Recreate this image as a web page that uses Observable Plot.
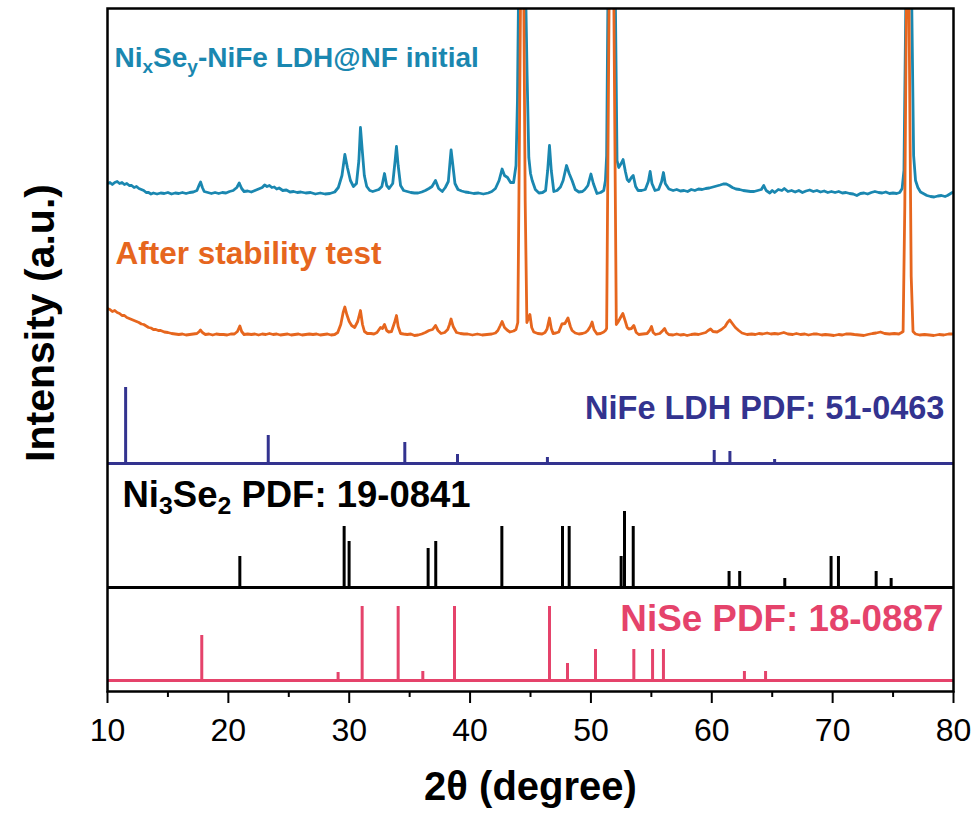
<!DOCTYPE html>
<html>
<head>
<meta charset="utf-8">
<script src="https://cdn.jsdelivr.net/npm/d3@7"></script>
<script src="https://cdn.jsdelivr.net/npm/@observablehq/plot@0.6"></script>
<style>
  html, body { margin: 0; padding: 0; background: #fff; }
  #chart svg { display: block; }
</style>
</head>
<body>
<div id="chart"></div>
<script>
// ---- Measured XRD pattern: NixSey-NiFe LDH@NF initial (2θ, intensity a.u. above its own baseline) ----
const initialTheta = [10.0,10.2,10.4,10.6,10.8,11.0,11.2,11.4,11.6,11.8,12.0,12.2,12.4,12.6,12.8,13.0,13.2,13.4,13.6,13.8,14.1,14.4,14.7,15.0,15.3,15.6,15.9,16.2,16.5,16.8,17.1,17.4,17.6,17.7,17.85,18.0,18.3,18.6,18.9,19.2,19.5,19.8,20.1,20.4,20.7,20.9,21.1,21.3,21.6,21.9,22.2,22.5,22.8,23.0,23.2,23.4,23.6,23.8,24.0,24.2,24.5,24.8,25.1,25.4,25.7,26.0,26.4,26.8,27.2,27.6,28.0,28.4,28.8,29.1,29.4,29.64,29.85,30.1,30.35,30.6,30.8,30.93,31.08,31.25,31.45,31.7,31.95,32.2,32.45,32.7,32.92,33.1,33.3,33.6,33.8,33.91,34.05,34.25,34.5,34.8,35.1,35.4,35.7,36.0,36.3,36.6,36.85,37.14,37.4,37.7,37.95,38.2,38.35,38.43,38.55,38.75,39.0,39.3,39.6,39.9,40.3,40.7,41.1,41.5,41.8,42.1,42.4,42.65,42.85,43.1,43.35,43.6,43.8,43.92,44.0,44.35,44.62,44.72,44.86,45.0,45.14,45.4,45.7,46.0,46.25,46.42,46.57,46.72,46.93,47.2,47.48,47.7,47.98,48.2,48.44,48.7,49.0,49.3,49.5,49.75,50.0,50.2,50.5,50.8,51.06,51.2,51.3,51.4,51.72,52.03,52.16,52.3,52.5,52.66,52.85,53.0,53.15,53.35,53.5,53.7,53.9,54.2,54.5,54.75,54.9,55.05,55.3,55.6,55.85,56.0,56.15,56.45,56.8,57.1,57.4,57.7,58.0,58.3,58.6,58.9,59.2,59.5,59.8,60.1,60.4,60.7,60.95,61.2,61.45,61.7,62.0,62.3,62.6,62.9,63.2,63.5,63.8,64.1,64.3,64.5,64.8,65.0,65.2,65.5,65.8,66.0,66.3,66.6,66.9,67.2,67.5,67.8,68.1,68.4,68.7,69.0,69.3,69.6,69.9,70.2,70.5,70.8,71.1,71.4,71.7,72.0,72.3,72.6,72.9,73.2,73.5,73.8,74.1,74.4,74.7,75.0,75.3,75.55,75.75,75.9,76.05,76.3,76.55,76.7,76.86,77.05,77.27,77.5,77.8,78.1,78.4,78.7,79.0,79.3,79.5,79.7,79.9];
const initialI = [12,13,11,13,14,12,13,11,12,10,10,8,9,7,6,5,3,3,1.5,2.5,1.5,2.5,2,3,1.5,2.5,2,3,2,3,3.5,5,11,13.5,8,4,3,2,3,2,3,2.5,4,5,8,12.5,7,4,4.5,3.5,5,6.5,8,10.5,9,10,8,8.5,6.5,7.5,5,5.5,3.5,4,3,3.5,2.5,3,1.5,2.5,1.5,2,3.5,8,20,41,28,15,9,12,35,68,45,20,9,5,4,5,6,9,22,10,7,12,35,49,30,10,5,4,3,2.5,2.5,3.5,5,7,9,15,7,4,8,14,35,45.5,33,12,6,4.5,3.5,3,2,2.5,1.5,2.5,4,7,15,26.5,20,18,13,13,30,95,190,330,190,120,38,22,15,6,2.5,3,5,25,50,25,4,5,8.5,15,30,22,15,6,3.5,4,6,10,21.5,12,2,3,5,15,40,187,600,187,35,28,32,36,24,16,14,18,20,9,5,5,6,14,24,12,5,6,14,23,12,6.5,5,6,4.5,5,4,6,5,6.5,6,7,7.5,8.5,9.5,10.5,11.5,11.5,10,8,6.5,6,5,4.5,4,4,5,6,10,5,2.5,5,3,6,5,7,4,5,3.5,5,3,4.5,5.5,4,5,3.5,4.5,3,4,3,4,2.5,3,2,1.5,0,2,2.5,1.5,3,4,3,2.5,3.5,2,2.5,2,3,7,25,187,620,187,40,15,8,3.5,2,0,-1,-1.5,-0.5,0,-1,0,1.5,3];

// ---- Measured XRD pattern: After stability test ----
const afterTheta = [10.0,10.2,10.4,10.6,10.8,11.0,11.2,11.4,11.6,11.8,12.0,12.2,12.4,12.6,12.8,13.0,13.2,13.4,13.6,13.8,14.0,14.2,14.4,14.7,15.0,15.3,15.6,15.9,16.2,16.5,16.8,17.1,17.4,17.6,17.7,17.85,18.1,18.4,18.7,19.0,19.3,19.6,19.9,20.2,20.5,20.75,20.95,21.1,21.3,21.6,21.9,22.2,22.5,22.8,23.1,23.4,23.7,24.0,24.3,24.6,24.9,25.2,25.5,25.8,26.1,26.4,26.7,27.0,27.3,27.6,27.9,28.2,28.5,28.8,29.05,29.3,29.5,29.64,29.8,30.0,30.2,30.45,30.7,30.93,31.1,31.26,31.5,31.8,32.05,32.3,32.59,32.75,32.92,33.1,33.27,33.5,33.75,33.91,34.05,34.25,34.5,34.8,35.1,35.4,35.7,36.0,36.3,36.6,36.9,37.14,37.35,37.6,37.9,38.15,38.3,38.43,38.6,38.88,39.2,39.5,39.8,40.2,40.6,41.0,41.4,41.8,42.1,42.3,42.5,42.65,42.85,43.06,43.3,43.6,43.8,43.95,44.04,44.17,44.3,44.45,44.56,44.7,44.82,44.95,45.1,45.27,45.6,45.96,46.2,46.37,46.57,46.72,46.87,47.1,47.34,47.6,47.85,48.1,48.3,48.44,48.7,49.0,49.3,49.55,49.74,49.95,50.1,50.25,50.5,50.8,51.06,51.2,51.3,51.5,51.7,51.9,52.1,52.22,52.45,52.64,52.85,53.0,53.13,53.35,53.55,53.75,53.96,54.3,54.65,54.85,55.01,55.15,55.34,55.7,55.95,56.1,56.25,56.44,56.8,57.1,57.4,57.7,57.96,58.3,58.6,58.9,59.2,59.5,59.7,59.9,60.1,60.44,60.8,61.1,61.3,61.49,61.7,61.95,62.23,62.5,62.92,63.3,63.6,63.9,64.2,64.58,64.9,65.2,65.5,65.96,66.3,66.7,67.0,67.34,67.7,68.0,68.4,68.72,69.1,69.4,69.8,70.1,70.5,70.8,71.1,71.48,71.8,72.2,72.58,72.9,73.3,73.6,73.96,74.3,74.7,75.1,75.48,75.7,75.83,75.97,76.1,76.2,76.32,76.5,76.65,76.86,77.2,77.6,78.0,78.37,78.8,79.2,79.6,79.9];
const afterI = [28,27,25,26,24,23,21,21,19,18,17,16,15,14,12.5,12,10.5,9,8.5,7,7,6,6,4.5,4,3,2.5,2,2.5,1.5,2,2.5,3,5,6.5,4,2,2.5,1.5,2.5,2,2,1.5,2.5,2.5,5,10.5,5,2,2.5,2,2.5,1.5,2.5,2,3,2,2.5,1.5,2,2.5,1.5,2,2.5,1.5,2,2.5,2,2.5,1.5,2,2.5,1.5,2,4,12,24,29.5,22,15,11,9,15,26,12,5,3,3,2.5,4,9,8,12,6,4.5,5,14,21,10,3,2.5,2,2.5,1,1.5,2.5,4,6,7,11,6,3,4,7,12,17.5,10,4,3,2.5,2.5,1.5,2.5,1.5,2,2.5,3.5,6,11,15,9,6.5,4.5,5.5,7,14,136,328,520,328,136,14,18,22,9,4.5,3,2.5,4,7.5,18.5,8,3,3.5,4.5,12.5,13,18.5,10,6,3.5,2.5,3,4,6,10,14.5,7,2.5,3,4.5,6,8,328,650,328,12,14,19,23,15,9,7.5,8,11,4,2,2.5,3,6,10,4,2,3,6,8,4,2,1.5,2.5,1.5,2,1,2,2.5,2,3,4,6,7.5,5,4.5,7,10,14,16.5,13,9,6,3.5,2,2.5,2,3,2.5,3.5,2.5,3,2.5,4,2.5,2,3,2,2.5,1.5,2.5,2.5,1.5,2,1.5,1,2,1.5,2.5,2.5,2,1.5,1,2,3,3.5,4.5,3,2.5,3,2.5,4,5,130,328,450,328,60,5,2.5,1.5,2,1.5,1,2,1.5,2.5,2.5];

// ---- Reference patterns (stick positions and relative intensities) ----
const nifeTheta = [11.5, 23.3, 34.6, 38.96, 46.4, 60.2, 61.5, 65.2];
const nifeI = [76, 28, 21, 9, 6, 13, 12, 4];

const ni3se2Theta = [20.95, 29.58, 29.99, 36.53, 37.16, 42.63, 47.65, 48.2, 52.5, 52.78, 53.5, 61.43, 62.31, 66.04, 69.87, 70.48, 73.6, 74.84];
const ni3se2I = [31, 61, 46, 39, 46, 61, 61, 61, 31, 76, 61, 16, 16, 9, 31, 31, 16, 9];

const niseTheta = [17.8, 29.08, 31.07, 34.05, 36.09, 38.71, 46.57, 48.06, 50.38, 53.55, 55.1, 56.0, 62.7, 64.45];
const niseI = [45, 8, 74, 74, 9, 74, 74, 17, 31, 31, 31, 31, 9, 9];

// ---- Labels / ticks ----
const majorTicks = [10, 20, 30, 40, 50, 60, 70, 80];
const minorTicks = [15, 25, 35, 45, 55, 65, 75];
const labelInitial = "NixSey-NiFe LDH@NF initial";
const labelAfter = "After stability test";
const labelNife = "NiFe LDH PDF: 51-0463";
const labelNi3se2 = "Ni3Se2 PDF: 19-0841";
const labelNise = "NiSe PDF: 18-0887";
const xTitle = "2θ (degree)";
const yTitle = "Intensity (a.u.)";

// vertical offsets of the stacked patterns (a.u.)
const offInitial = 496, offAfter = 355, offNife = 228, offNi3se2 = 104, offNise = 11;
const xDomain = [10, 80], yDomain = [0, 683];

const C = {teal: "#1a87b0", orange: "#e6661e", navy: "#33338f", black: "#000000", pink: "#e5436b"};

const line = (th, I, off) => th.map((t, i) => ({t, v: off + I[i]}));
const sticks = (th, I, off) => th.map((t, i) => ({t, y1: off, y2: off + I[i]}));

const plot = Plot.plot({
  width: 977,
  height: 817,
  marginLeft: 107,
  marginRight: 24,
  marginTop: 8,
  marginBottom: 126,
  style: {fontFamily: "'Liberation Sans', Arial, sans-serif", background: "#fff", color: "#000"},
  x: {domain: xDomain},
  y: {domain: yDomain, axis: null},
  marks: [
    // reference baselines
    Plot.ruleY([offNife], {stroke: C.navy, strokeWidth: 3}),
    Plot.ruleY([offNi3se2], {stroke: C.black, strokeWidth: 3}),
    Plot.ruleY([offNise], {stroke: C.pink, strokeWidth: 3}),
    // sticks
    Plot.ruleX(sticks(nifeTheta, nifeI, offNife), {x: "t", y1: "y1", y2: "y2", stroke: C.navy, strokeWidth: 3}),
    Plot.ruleX(sticks(ni3se2Theta, ni3se2I, offNi3se2), {x: "t", y1: "y1", y2: "y2", stroke: C.black, strokeWidth: 3}),
    Plot.ruleX(sticks(niseTheta, niseI, offNise), {x: "t", y1: "y1", y2: "y2", stroke: C.pink, strokeWidth: 3}),
    // measured patterns
    Plot.line(line(initialTheta, initialI, offInitial), {x: "t", y: "v", stroke: C.teal, strokeWidth: 2.8, clip: true, strokeLinejoin: "round"}),
    Plot.line(line(afterTheta, afterI, offAfter), {x: "t", y: "v", stroke: C.orange, strokeWidth: 2.8, clip: true, strokeLinejoin: "round"}),
    // labels
    Plot.text([labelInitial], {x: 10.58, y: 633, text: d => d, textAnchor: "start", lineAnchor: "middle", fill: C.teal, fontSize: 28, fontWeight: "bold"}),
    Plot.text([labelAfter], {x: 10.66, y: 438, text: d => d, textAnchor: "start", lineAnchor: "middle", fill: C.orange, fontSize: 31.5, fontWeight: "bold"}),
    Plot.text([labelNife], {x: 79.25, y: 283.4, text: d => d, textAnchor: "end", lineAnchor: "middle", fill: C.navy, fontSize: 32.5, fontWeight: "bold"}),
    Plot.text([labelNi3se2], {x: 11.24, y: 196.5, text: d => d, textAnchor: "start", lineAnchor: "middle", fill: C.black, fontSize: 36.5, fontWeight: "bold"}),
    Plot.text([labelNise], {x: 79.17, y: 72.5, text: d => d, textAnchor: "end", lineAnchor: "middle", fill: C.pink, fontSize: 36.8, fontWeight: "bold"}),
    // axes: tick marks, then tick labels as text
    Plot.axisX({ticks: majorTicks, tickSize: 12, strokeWidth: 2, tickFormat: () => "", label: null}),
    Plot.axisX({ticks: minorTicks, tickSize: 6, strokeWidth: 2, tickFormat: () => "", label: null}),
    Plot.text(majorTicks, {x: d => d, frameAnchor: "bottom", text: d => String(d), dy: 39, textAnchor: "middle", lineAnchor: "middle", fontSize: 32, fill: "#000"}),
    Plot.text([xTitle], {frameAnchor: "bottom", text: d => d, dy: 96, textAnchor: "middle", lineAnchor: "middle", fontSize: 40, fontWeight: "bold", fill: "#000"}),
    Plot.text([yTitle], {frameAnchor: "left", text: d => d, rotate: -90, dx: -67, dy: -27, textAnchor: "middle", lineAnchor: "middle", fontSize: 41, fontWeight: "bold", fill: "#000"}),
    // plot frame
    Plot.frame({stroke: "#000", strokeWidth: 2.5})
  ]
});

// render chemical subscripts as real text tspans
const subs = {
  [labelInitial]: [["Ni", 0], ["x", 1], ["Se", 0], ["y", 1], ["-NiFe LDH@NF initial", 0]],
  [labelNi3se2]: [["Ni", 0], ["3", 1], ["Se", 0], ["2", 1], [" PDF: 19-0841", 0]]
};
d3.select(plot).selectAll("text").each(function () {
  const parts = subs[this.textContent];
  if (!parts) return;
  const el = d3.select(this);
  el.text(null);
  let lowered = false;
  for (const [s, isSub] of parts) {
    const ts = el.append("tspan").text(s);
    if (isSub && !lowered) { ts.attr("dy", "0.3em").attr("font-size", "0.68em"); lowered = true; }
    else if (isSub) { ts.attr("font-size", "0.68em"); }
    else if (!isSub && lowered) { ts.attr("dy", "-0.204em"); lowered = false; }
  }
});

document.getElementById("chart").appendChild(plot);
</script>
</body>
</html>
